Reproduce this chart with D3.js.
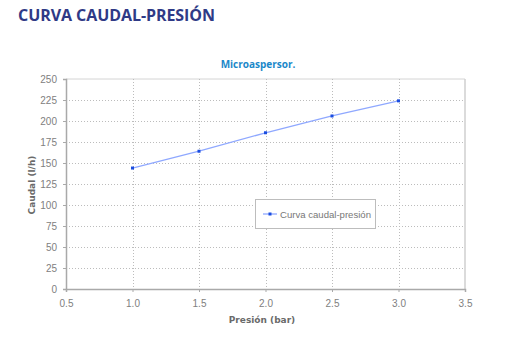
<!DOCTYPE html>
<html>
<head>
<meta charset="utf-8">
<script src="https://cdn.jsdelivr.net/npm/d3@7"></script>
<style>
  html, body { margin: 0; padding: 0; background: #fff; }
  svg { display: block; }
</style>
</head>
<body>
<svg id="chart" width="520" height="340"></svg>
<script>
// Pressure (bar) vs. flow (l/h) for the micro-sprinkler
const presion = [1.0, 1.5, 2.0, 2.5, 3.0];
const caudal = [144, 164, 186, 206, 224];
const xTicks = [0.5, 1.0, 1.5, 2.0, 2.5, 3.0, 3.5];
const yTicks = [0, 25, 50, 75, 100, 125, 150, 175, 200, 225, 250];
const serieNombre = "Curva caudal-presión";

const svg = d3.select("#chart");
const m = { left: 66, right: 465, top: 79, bottom: 289 };

const x = d3.scaleLinear().domain([0.5, 3.5]).range([m.left, m.right]);
const y = d3.scaleLinear().domain([0, 250]).range([m.bottom, m.top]);

// Page heading
svg.append("text")
  .attr("x", 18).attr("y", 21)
  .attr("font-family", "Open Sans")
  .attr("font-weight", "bold")
  .attr("font-size", 16)
  .attr("fill", "#2f3a86")
  .attr("textLength", 197)
  .attr("lengthAdjust", "spacing")
  .text("CURVA CAUDAL-PRESIÓN");

// Chart title
svg.append("text")
  .attr("x", 258).attr("y", 68)
  .attr("text-anchor", "middle")
  .attr("font-family", "Open Sans")
  .attr("font-weight", "bold")
  .attr("font-size", 10)
  .attr("fill", "#1b88c9")
  .text("Microaspersor.");

// Plot frame (top and right, light)
svg.append("line")
  .attr("x1", m.left).attr("x2", m.right).attr("y1", m.top).attr("y2", m.top)
  .attr("stroke", "#d4d4d4").attr("stroke-width", 1);
svg.append("line")
  .attr("x1", m.right).attr("x2", m.right).attr("y1", m.top).attr("y2", m.bottom)
  .attr("stroke", "#cfcfcf").attr("stroke-width", 1.5);

// Dotted grid
svg.append("g")
  .selectAll("line")
  .data(yTicks.filter(d => d > 0 && d < 250))
  .join("line")
  .attr("x1", m.left).attr("x2", m.right)
  .attr("y1", d => Math.round(y(d)) + 0.5).attr("y2", d => Math.round(y(d)) + 0.5)
  .attr("stroke", "#bcbcbc").attr("stroke-dasharray", "1,2");
svg.append("g")
  .selectAll("line")
  .data(xTicks.filter(d => d > 0.5 && d < 3.5))
  .join("line")
  .attr("x1", d => Math.round(x(d)) + 0.5).attr("x2", d => Math.round(x(d)) + 0.5)
  .attr("y1", m.top).attr("y2", m.bottom)
  .attr("stroke", "#bcbcbc").attr("stroke-dasharray", "1,2");

// Axes
const yAxis = svg.append("g")
  .attr("transform", `translate(${m.left},0)`)
  .call(d3.axisLeft(y).tickValues(yTicks).tickSize(3).tickPadding(6).tickFormat(d3.format("d")));
const xAxis = svg.append("g")
  .attr("transform", `translate(0,${m.bottom})`)
  .call(d3.axisBottom(x).tickValues(xTicks).tickSize(3).tickPadding(8).tickFormat(d3.format(".1f")));

[yAxis, xAxis].forEach(g => {
  g.select(".domain").attr("stroke", "#a9a9a9").attr("stroke-width", 1.5);
  g.selectAll(".tick line").attr("stroke", "#a9a9a9");
  g.selectAll(".tick text")
    .attr("fill", "#808080")
    .attr("font-family", "Liberation Sans, Arial, sans-serif")
    .attr("font-size", 10);
});

// Axis titles
svg.append("text")
  .attr("transform", "translate(35,185) rotate(-90)")
  .attr("text-anchor", "middle")
  .attr("font-family", "DejaVu Sans")
  .attr("font-weight", "bold")
  .attr("font-size", 9)
  .attr("fill", "#6a6a6a")
  .text("Caudal (l/h)");
svg.append("text")
  .attr("x", 262).attr("y", 323)
  .attr("text-anchor", "middle")
  .attr("font-family", "DejaVu Sans")
  .attr("font-weight", "bold")
  .attr("font-size", 9)
  .attr("fill", "#6a6a6a")
  .text("Presión (bar)");

// Series line and markers
const pts = presion.map((p, i) => [p, caudal[i]]);
svg.append("path")
  .datum(pts)
  .attr("fill", "none")
  .attr("stroke", "#8fa8ff")
  .attr("stroke-width", 1.3)
  .attr("d", d3.line().x(d => x(d[0])).y(d => y(d[1])));
svg.append("g")
  .selectAll("rect")
  .data(pts)
  .join("rect")
  .attr("x", d => x(d[0]) - 1.5).attr("y", d => y(d[1]) - 1.5)
  .attr("width", 3).attr("height", 3)
  .attr("fill", "#1a4de0");

// Legend
const lg = svg.append("g").attr("transform", "translate(255,199)");
lg.append("rect")
  .attr("x", 0.5).attr("y", 0.5).attr("width", 120).attr("height", 29)
  .attr("fill", "#fff").attr("stroke", "#bdbdbd");
lg.append("line")
  .attr("x1", 8).attr("x2", 22).attr("y1", 15).attr("y2", 15)
  .attr("stroke", "#8fa8ff").attr("stroke-width", 1.3);
lg.append("rect")
  .attr("x", 13.5).attr("y", 13.5).attr("width", 3).attr("height", 3)
  .attr("fill", "#1a4de0");
lg.append("text")
  .attr("x", 25).attr("y", 18.5)
  .attr("font-family", "Liberation Sans, Arial, sans-serif")
  .attr("font-size", 9.5)
  .attr("fill", "#777777")
  .attr("textLength", 91)
  .attr("lengthAdjust", "spacingAndGlyphs")
  .text(serieNombre);
</script>
</body>
</html>
